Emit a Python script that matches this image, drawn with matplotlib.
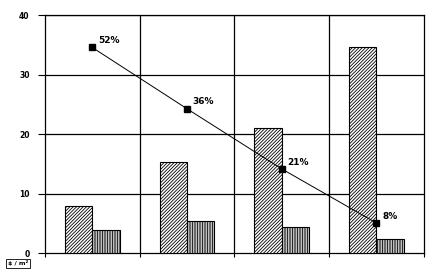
import matplotlib
matplotlib.use("Agg")
import matplotlib.pyplot as plt
import numpy as np

categories = ["1", "2", "3", "4"]
hatched_vals = [8.0, 15.3, 21.0, 34.6]
vertical_vals = [4.0, 5.5, 4.4, 2.5]
line_vals = [34.6, 24.3, 14.2, 5.1]
line_labels = ["52%", "36%", "21%", "8%"]
y_ticks = [0, 10, 20, 30, 40]

plt.rcParams["hatch.linewidth"] = 0.6
fig = plt.figure(figsize=(4.32, 2.69), dpi=100)
ax = fig.add_axes([0.104, 0.058, 0.877, 0.885])

x = np.arange(len(categories))
w = 0.29
ax.bar(x - w / 2, hatched_vals, width=w, facecolor="white", edgecolor="black",
       hatch="/" * 10, linewidth=0.8, zorder=3)
ax.bar(x + w / 2, vertical_vals, width=w, facecolor="white", edgecolor="black",
       hatch="|" * 10, linewidth=0.8, zorder=3)
ax.plot(x, line_vals, color="black", linewidth=0.7, marker="s", markersize=5,
        zorder=4)
for xi, yi, lab in zip(x, line_vals, line_labels):
    ax.text(xi + 0.06, yi + 0.4, lab, fontsize=6.5, fontweight="bold",
            ha="left", va="bottom", zorder=5)

ax.set_xlim(-0.5, len(categories) - 0.5)
ax.set_ylim(0, 40)
ax.set_yticks(y_ticks)
ax.set_yticklabels([str(v) for v in y_ticks], fontsize=5.5, fontweight="bold")
ax.set_xticks(np.arange(len(categories) + 1) - 0.5)
ax.set_xticklabels([])
ax.tick_params(axis="y", length=5, width=0.8, pad=6)
ax.tick_params(axis="x", length=3, width=0.8)
for v in y_ticks[1:]:
    ax.axhline(v, color="black", linewidth=0.9, zorder=1)
for b in np.arange(1, len(categories)):
    ax.axvline(b - 0.5, color="black", linewidth=0.9, zorder=1)
for s in ax.spines.values():
    s.set_linewidth(0.9)

fig.text(0.018, 0.022, "$ / m²", fontsize=4.5, fontweight="bold",
         ha="left", va="center",
         bbox=dict(boxstyle="square,pad=0.25", facecolor="white",
                   edgecolor="black", linewidth=0.6))

fig.savefig("out.png", dpi=100)
